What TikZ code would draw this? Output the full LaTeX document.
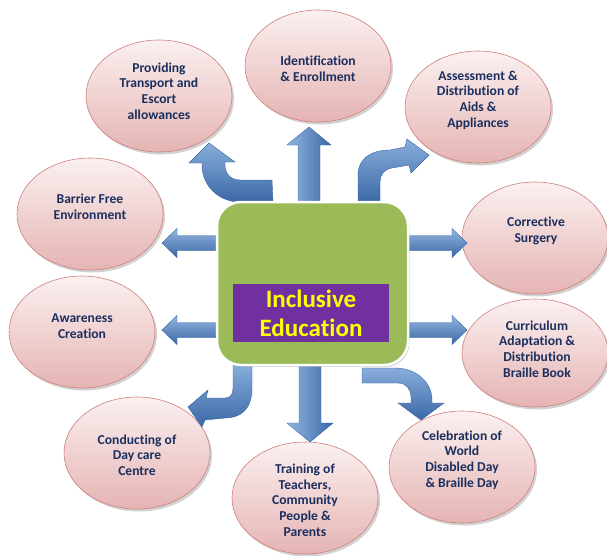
\documentclass[tikz,border=0pt]{standalone}
\usepackage{fontspec}
\setmainfont{Carlito}[Ligatures=NoCommon]
\usetikzlibrary{shapes.geometric,shadows}
\definecolor{navytext}{HTML}{1B2F5E}
\definecolor{pinktop}{HTML}{FBF0F0}
\definecolor{pinkbot}{HTML}{E5B4B3}
\definecolor{pinkline}{HTML}{CF7F7D}
\definecolor{hubgreen}{HTML}{9BBB59}
\definecolor{hubpurple}{HTML}{7030A0}
\definecolor{hubyellow}{HTML}{FFFF00}
\definecolor{blueedge}{HTML}{35649F}
\definecolor{bluedark}{HTML}{3A68A6}
\definecolor{bluemid}{HTML}{5B8BCB}
\definecolor{bluelight}{HTML}{94B6E0}
\begin{document}
\begin{tikzpicture}[x=1pt,y=-1pt,
  topic/.style={ellipse, draw=pinkline, line width=0.6pt,
    top color=pinktop, bottom color=pinkbot,
    minimum width=146pt, minimum height=112pt, inner sep=0pt,
    drop shadow={shadow xshift=2pt, shadow yshift=-2.5pt, opacity=0.3, fill=black!60}},
  topictext/.style={align=center, text=navytext, inner sep=0pt,
    font=\fontsize{13.6}{15.7}\selectfont\bfseries},
  harrow/.style={draw=blueedge, line width=0.4pt,
    top color=bluelight, middle color=bluemid, bottom color=bluedark},
  varrow/.style={draw=blueedge, line width=0.4pt,
    left color=bluelight, middle color=bluemid, right color=bluedark},
  carrow/.style={draw=blueedge, line width=0.4pt,
    top color=bluelight!80!bluemid, bottom color=bluedark},
]
\useasboundingbox (0,0) rectangle (607,555);

% surrounding topics
\node[topic] (ident)    at (318,66)  {};
\node[topic] (transport) at (159,96) {};
\node[topic] (assess)   at (478,107) {};
\node[topic] (barrier)  at (90,214)  {};
\node[topic] (aware)    at (82,332)  {};
\node[topic] (surgery)  at (535,238) {};
\node[topic, minimum height=108pt] (curric) at (535,353) {};
\node[topic] (daycare)  at (137,453) {};
\node[topic] (training) at (305,498) {};
\node[topic] (celeb)    at (462,467) {};

\node[topictext] (identtxt)     at (318,69)  {Identification\\\& Enrollment};
\node[topictext] (transporttxt) at (159,91)  {Providing\\Transport and\\Escort\\allowances};
\node[topictext] (assesstxt)    at (478,100) {Assessment \&\\Distribution of\\Aids \&\\Appliances};
\node[topictext] (barriertxt)   at (90,207)  {Barrier Free\\Environment};
\node[topictext] (awaretxt)     at (82,326)  {Awareness\\Creation};
\node[topictext] (surgerytxt)   at (536,231) {Corrective\\Surgery};
\node[topictext] (curricttxt)   at (537,349) {Curriculum\\Adaptation \&\\Distribution\\Braille Book};
\node[topictext] (daycaretxt)   at (137,455) {Conducting of\\Day care\\Centre};
\node[topictext] (trainingtxt)  at (305,500) {Training of\\Teachers,\\Community\\People \&\\Parents};
\node[topictext] (celebtxt)     at (462,460) {Celebration of\\World\\Disabled Day\\\& Braille Day};

% straight block arrows
\path[harrow] (218,235.5) -- (177,235.5) -- (177,228.5) -- (162,243) -- (177,257.5) -- (177,250.5) -- (218,250.5) -- cycle;
\path[harrow] (218,322.5) -- (177,322.5) -- (177,315.5) -- (162,330) -- (177,344.5) -- (177,337.5) -- (218,337.5) -- cycle;
\path[harrow] (407,235.5) -- (452,235.5) -- (452,228.5) -- (467,243) -- (452,257.5) -- (452,250.5) -- (407,250.5) -- cycle;
\path[harrow] (407,322.5) -- (452,322.5) -- (452,315.5) -- (467,330) -- (452,344.5) -- (452,337.5) -- (407,337.5) -- cycle;
\path[varrow] (298,203) -- (298,145) -- (287,145) -- (309,127) -- (331,145) -- (320,145) -- (320,203) -- cycle;
\path[varrow] (299,364) -- (299,423) -- (287,423) -- (310,442) -- (333,423) -- (321,423) -- (321,364) -- cycle;

% bent block arrows
\path[carrow] (273,202) -- (240,202) .. controls (219,202) and (202,186) .. (202,165)
  -- (202,163) -- (189,163) -- (209,143) -- (235,162) -- (225,162) -- (225,165)
  .. controls (225,174) and (231,180) .. (240,180) -- (272,180) -- cycle;
\path[carrow] (358,203) -- (358,175) .. controls (358,158) and (372,150) .. (390,150)
  -- (405,147) -- (407,139) -- (429,155) -- (411,173) -- (409,165) -- (392,168)
  .. controls (384,169) and (380,175) .. (380,182) -- (380,203) -- cycle;
\path[carrow] (252,364) -- (252,388) .. controls (252,410) and (240,418) .. (225,418)
  -- (205,420) -- (202,427) -- (188,407) -- (208,390) -- (206,398) -- (225,398)
  .. controls (231,398) and (233,394) .. (233,388) -- (233,364) -- cycle;
\path[carrow] (362,368) -- (395,368) .. controls (416,368) and (432,382) .. (432,400)
  -- (432,403) -- (444,403) -- (421,420) -- (398,403) -- (411,403) -- (411,397)
  .. controls (411,389) and (406,383) .. (398,383) -- (362,383) -- cycle;

% central hub
\node[draw=white, line width=2.5pt, fill=hubgreen, rounded corners=24pt,
  minimum width=191pt, minimum height=163pt,
  drop shadow={shadow xshift=1.5pt, shadow yshift=-2pt, opacity=0.35, fill=black!50}]
  (hub) at (312.5,283.5) {};
\node[fill=hubpurple, minimum width=156pt, minimum height=58pt, inner sep=0pt,
  text=hubyellow, align=center, font=\fontsize{25}{29}\selectfont\bfseries]
  (title) at (311,313) {Inclusive\\Education};
\end{tikzpicture}
\end{document}
